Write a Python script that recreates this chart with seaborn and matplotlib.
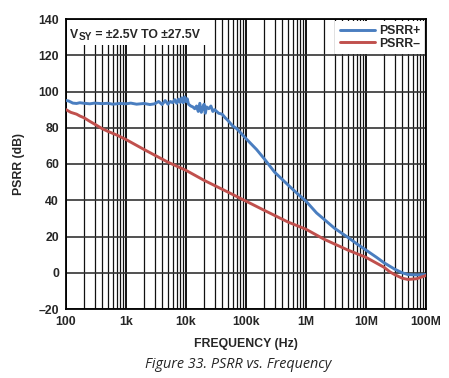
import matplotlib
matplotlib.use("Agg")
import matplotlib.pyplot as plt
import seaborn as sns
import pandas as pd
import numpy as np
from matplotlib.ticker import NullFormatter, LogLocator
from matplotlib.transforms import IdentityTransform
from matplotlib.patches import Rectangle
from matplotlib.lines import Line2D

# ---- data ----
freq_pos = [100, 110, 120, 130, 150, 170, 200, 250, 300, 400, 500, 600, 800,
            1000, 1200, 1500, 2000, 2500, 3000, 3500, 4000, 4500, 5000, 5500,
            6000, 6500, 7000, 7500, 8000, 8500, 9000, 9500, 10000, 10500,
            11000, 12000, 13000, 14000, 15000, 16000, 17000, 18000, 19000,
            20000, 21000, 22000, 24000, 26000, 28000, 30000, 35000, 40000,
            45000, 50000, 60000, 70000, 80000, 100000, 150000, 200000, 300000,
            500000, 700000, 1e6, 1.5e6, 2e6, 3e6, 5e6, 7e6, 1e7, 1.5e7, 2e7,
            3e7, 4e7, 5e7, 7e7, 1e8]
psrr_pos = [95.0, 94.8, 94.2, 93.6, 93.4, 93.8, 93.5, 93.2, 93.6, 93.3, 93.5,
            93.0, 93.4, 93.2, 93.6, 93.0, 93.4, 92.8, 93.2, 94.5, 92.8, 95.0,
            93.0, 94.5, 93.8, 95.5, 93.5, 95.8, 94.0, 96.5, 93.8, 97.0, 94.5,
            96.0, 93.0, 92.0, 91.5, 90.5, 92.0, 89.0, 93.5, 88.5, 91.0, 93.0,
            88.0, 91.5, 90.5, 92.0, 89.0, 90.0, 88.0, 87.5, 85.5, 84.0, 81.0,
            79.5, 77.5, 74.0, 68.0, 63.0, 55.5, 48.5, 44.0, 39.5, 33.0, 29.5,
            24.5, 19.5, 16.0, 12.5, 8.5, 5.5, 2.0, 0.0, -1.0, -1.2, -1.0]

freq_neg = [100, 120, 150, 170, 200, 250, 300, 400, 500, 700, 1000, 2000, 5000,
            10000, 20000, 50000, 100000, 200000, 500000, 1e6, 2e6, 5e6, 1e7,
            2e7, 2.5e7, 3e7, 4e7, 5e7, 7e7, 1e8]
psrr_neg = [90.0, 88.5, 87.5, 86.5, 85.5, 83.5, 82.0, 79.5, 78.0, 76.0, 73.5,
            68.0, 61.0, 56.5, 51.0, 44.5, 39.5, 34.5, 28.0, 24.0, 18.5, 12.5,
            8.5, 3.0, 0.5, -1.0, -3.0, -3.7, -3.3, -1.5]

x_ticks = [1e2, 1e3, 1e4, 1e5, 1e6, 1e7, 1e8]
x_labels = ["100", "1k", "10k", "100k", "1M", "10M", "100M"]
y_ticks = [-20, 0, 20, 40, 60, 80, 100, 120, 140]
y_labels = ["\u201320", "0", "20", "40", "60", "80", "100", "120", "140"]

series_names = ["PSRR+", "PSRR\u2013"]
colors = ["#4a7ec0", "#c0504d"]

df = pd.concat([
    pd.DataFrame({"f": freq_pos, "db": psrr_pos, "s": series_names[0]}),
    pd.DataFrame({"f": freq_neg, "db": psrr_neg, "s": series_names[1]}),
])

sns.set_style("white")
plt.rcParams["font.family"] = ["Liberation Sans", "DejaVu Sans"]

W, H = 449, 378
fig = plt.figure(figsize=(W / 100, H / 100), dpi=100)
ax = fig.add_axes([66 / W, 1 - 309 / H, 360 / W, 290 / H])

ax.set_xscale("log")
ax.set_xlim(1e2, 1e8)
ax.set_ylim(-20, 140)

# grid
ax.xaxis.set_minor_locator(LogLocator(base=10, subs=np.arange(2, 10), numticks=20))
ax.xaxis.set_minor_formatter(NullFormatter())
ax.grid(which="major", axis="x", color="black", lw=1.3, zorder=0)
ax.grid(which="minor", axis="x", color="#111111", lw=0.9, zorder=0)
ax.grid(which="major", axis="y", color="#333333", lw=1.2, zorder=0)

sns.lineplot(data=df, x="f", y="db", hue="s", palette=colors, ax=ax,
             lw=2.1, sort=False, legend=False, zorder=3)

ax.set_xticks(x_ticks)
ax.set_xticklabels(x_labels)
ax.set_yticks(y_ticks)
ax.set_yticklabels(y_labels)
ax.tick_params(axis="both", which="both", length=0, labelsize=8.8, pad=5)
for lab in ax.get_xticklabels() + ax.get_yticklabels():
    lab.set_fontweight("bold")

for s in ax.spines.values():
    s.set_color("black")
    s.set_linewidth(1.3)

ax.set_xlabel("FREQUENCY (Hz)", fontsize=8.8, fontweight="bold", labelpad=7)
ax.set_ylabel("PSRR (dB)", fontsize=8.8, fontweight="bold", labelpad=10)

# annotation box (white background) in pixel coords
ax.add_patch(Rectangle((67, H - 45), 141, 25, transform=IdentityTransform(),
                       facecolor="white", edgecolor="none", zorder=4))
fig.canvas.draw()
r = fig.canvas.get_renderer()
x0, yb = 70, H - 37.5
t1 = fig.text(x0, yb, "V", transform=IdentityTransform(), fontsize=8.8,
              fontweight="bold", va="baseline", ha="left", zorder=5)
w1 = t1.get_window_extent(r).width
t2 = fig.text(x0 + w1 + 0.3, yb - 2, "SY", transform=IdentityTransform(),
              fontsize=7.2, fontweight="bold", va="baseline", ha="left", zorder=5)
w2 = t2.get_window_extent(r).width
fig.text(x0 + w1 + w2 + 0.6, yb, " = \u00b12.5V TO \u00b127.5V",
         transform=IdentityTransform(), fontsize=8.8, fontweight="bold",
         va="baseline", ha="left", zorder=5)

# legend
handles = [Line2D([0], [0], color=c, lw=2.1) for c in colors]
leg = ax.legend(handles, series_names, loc="upper right", frameon=True,
                fancybox=False, framealpha=1, edgecolor="white",
                prop={"weight": "bold", "size": 8.8}, handlelength=2.9,
                handletextpad=0.3, labelspacing=0.05, borderpad=0.35,
                borderaxespad=0.15)
leg.get_frame().set_linewidth(0)
leg.set_zorder(6)

fig.text(238 / W, 1 - 365 / H, "Figure 33. PSRR vs. Frequency",
         ha="center", va="center", fontsize=10.4, style="italic",
         family=["Open Sans", "DejaVu Sans"])

fig.savefig("out.png", dpi=100, facecolor="white")
